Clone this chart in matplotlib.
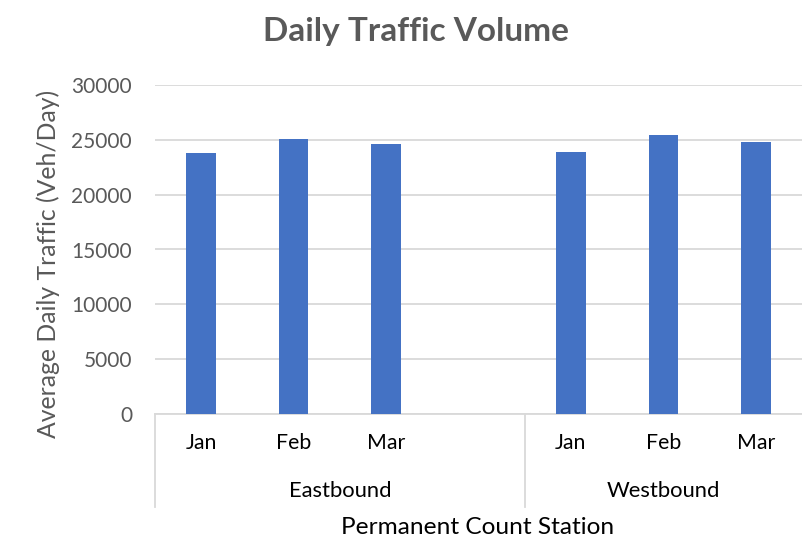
import matplotlib
matplotlib.use("Agg")
import matplotlib.pyplot as plt
from matplotlib.lines import Line2D

plt.rcParams['font.family'] = ['Lato', 'DejaVu Sans']

title = "Daily Traffic Volume"
groups = ["Eastbound", "Westbound"]
months = ["Jan", "Feb", "Mar"]
eastbound = [23760, 25100, 24610]
westbound = [23910, 25460, 24820]
y_ticks = [0, 5000, 10000, 15000, 20000, 25000, 30000]
x_title = "Permanent Count Station"
y_title = "Average Daily Traffic (Veh/Day)"

W, H = 802, 540
fig = plt.figure(figsize=(W / 100, H / 100), dpi=100)
L, R, T, B = 155, 802, 85, 414
ax = fig.add_axes([L / W, 1 - B / H, (R - L) / W, (B - T) / H])

bar_color = "#4472C4"
grid_color = "#D9D9D9"
text_gray = "#595959"

# slot positions: Eastbound 0..2, gap at 3, Westbound 4..6
e_pos = [0, 1, 2]
w_pos = [4, 5, 6]
ax.bar(e_pos, eastbound, width=0.32, color=bar_color, zorder=3)
ax.bar(w_pos, westbound, width=0.32, color=bar_color, zorder=3)

ax.set_xlim(-0.5, 6.5)
ax.set_ylim(0, 30000)
ax.set_yticks(y_ticks)
ax.set_yticklabels([str(v) for v in y_ticks], fontsize=15, color=text_gray)
ax.tick_params(axis='y', length=0, pad=16.5)
ax.yaxis.grid(True, color=grid_color, linewidth=1.3, zorder=0)
ax.set_xticks([])
for s in ['top', 'right', 'left']:
    ax.spines[s].set_visible(False)
ax.spines['bottom'].set_color(grid_color)
ax.spines['bottom'].set_linewidth(1.3)

# category labels
trans = ax.get_xaxis_transform()
for p, m in zip(e_pos + w_pos, months + months):
    ax.text(p, 1 - (443 - T) / (B - T), m, transform=trans, ha='center', va='center',
            fontsize=15.3, color='black')
group_centers = [1.5, 5.0]
for c, g in zip(group_centers, groups):
    ax.text(c, 1 - (491 - T) / (B - T), g, transform=trans, ha='center', va='center',
            fontsize=15.8, color='black')
# dividers
y0 = 0
y1 = 1 - (507 - T) / (B - T)
for xd in [-0.5, 3.5]:
    ax.add_line(Line2D([xd, xd], [y0, y1], transform=trans, color=grid_color,
                       linewidth=1.3, clip_on=False))

fig.text(478 / W, 1 - 527 / H, x_title, ha='center', va='center', fontsize=17.6, color='black')
fig.text(48 / W, 1 - 264 / H, y_title, ha='center', va='center', rotation=90,
         fontsize=17.8, color=text_gray)
fig.text(416 / W, 1 - 32 / H, title, ha='center', va='center', fontsize=24,
         fontweight='bold', color=text_gray)

fig.savefig("out.png", dpi=100)
